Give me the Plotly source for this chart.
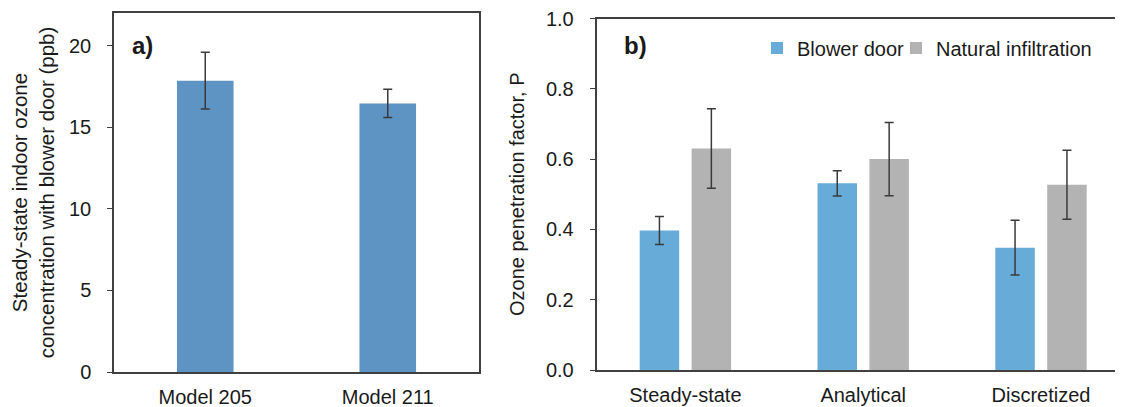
import plotly.graph_objects as go

# Panel a data
models = ["Model 205", "Model 211"]
conc = [17.85, 16.46]
conc_err = [1.74, 0.86]

# Panel b data
methods = ["Steady-state", "Analytical", "Discretized"]
blower = [0.397, 0.531, 0.348]
blower_err = [0.040, 0.036, 0.078]
natural = [0.630, 0.600, 0.527]
natural_err = [0.113, 0.104, 0.098]

A_TICKS = [0, 5, 10, 15, 20]
B_TICKS = [0.0, 0.2, 0.4, 0.6, 0.8, 1.0]

FONT = "Liberation Sans, Arial, sans-serif"
TXT = "#1a1a1a"
AX = "#404040"
ERR = dict(type="data", visible=True, color="#3a3a3a", thickness=1.5, width=4.5)

fig = go.Figure()

fig.add_trace(go.Bar(
    x=models, y=conc, error_y=dict(array=conc_err, **ERR),
    marker=dict(color="#5d94c4", line=dict(width=0)), width=0.31,
    xaxis="x", yaxis="y", showlegend=False))

fig.add_trace(go.Bar(
    x=methods, y=blower, error_y=dict(array=blower_err, **ERR),
    name="Blower door", marker=dict(color="#67acd9", line=dict(width=0)),
    width=0.222, offset=-0.257, xaxis="x2", yaxis="y2", legend="legend"))
fig.add_trace(go.Bar(
    x=methods, y=natural, error_y=dict(array=natural_err, **ERR),
    name="Natural infiltration", marker=dict(color="#b3b3b3", line=dict(width=0)),
    width=0.222, offset=0.035, xaxis="x2", yaxis="y2", legend="legend2"))

# The page adds an 8 px body margin; layout numbers below are page pixels.
OFF = 8
W, H = 1123 - OFF, 407 - OFF
ML, MR, MT, MB = 114 - OFF, 0, 13 - OFF, H - (372 - OFF)
PW = W - ML - MR
PH = H - MT - MB

def px_x(p):
    return (p - OFF - ML) / PW

def px_y(p):
    return (H - MB - (p - OFF)) / PH

B_LEFT = 596.5
BAND = 177.8
B_RIGHT = W + OFF - MR
b_range = [-0.5, -0.5 + (B_RIGHT - B_LEFT) / BAND]

LEG = dict(orientation="h", yanchor="middle", xanchor="left",
           font=dict(size=20), bgcolor="rgba(0,0,0,0)", borderwidth=0)

fig.update_layout(
    width=W, height=H,
    margin=dict(l=ML, r=MR, t=MT, b=MB, autoexpand=False),
    paper_bgcolor="white", plot_bgcolor="white",
    barmode="group",
    font=dict(family=FONT, color=TXT, size=20),
    xaxis=dict(domain=[0, px_x(479)], range=[-0.5, 1.5], showline=True,
               linecolor=AX, linewidth=1.5, mirror=True, ticks="",
               showgrid=False, tickfont=dict(size=20), ticklabelstandoff=6,
               ticklabeloverflow="allow", automargin=False, anchor="y"),
    yaxis=dict(domain=[px_y(372), px_y(13)], range=[0, 22], tickvals=A_TICKS,
               showline=True, linecolor=AX, linewidth=1.5, mirror=True,
               ticks="outside", ticklen=5, tickcolor=AX, showgrid=False,
               zeroline=False, tickfont=dict(size=20), ticklabelstandoff=12,
               ticklabeloverflow="allow",
               title=dict(text="Steady-state indoor ozone<br>concentration with blower door (ppb)",
                          font=dict(size=20.5), standoff=9),
               automargin=False, anchor="x"),
    xaxis2=dict(domain=[px_x(B_LEFT), 1.0], range=b_range, showline=True,
                linecolor=AX, linewidth=1.5, mirror=True, ticks="",
                showgrid=False, tickfont=dict(size=20), ticklabelstandoff=6,
                ticklabeloverflow="allow", automargin=False, anchor="y2"),
    yaxis2=dict(domain=[px_y(370), px_y(18.5)], range=[0, 1.0], tickvals=B_TICKS,
                tickformat=".1f", showline=True, linecolor=AX, linewidth=1.5,
                mirror=False, ticks="outside", ticklen=5, tickcolor=AX,
                showgrid=False, zeroline=False, tickfont=dict(size=20),
                ticklabelstandoff=12, ticklabeloverflow="allow",
                title=dict(text="Ozone penetration factor, P", font=dict(size=20),
                           standoff=16),
                automargin=False, anchor="x2"),
    legend=dict(x=px_x(757), y=px_y(48), **LEG),
    legend2=dict(x=px_x(896), y=px_y(48), **LEG),
    annotations=[
        dict(text="<b>a)</b>", x=px_x(142.5), y=px_y(45), xref="paper", yref="paper",
             xanchor="center", yanchor="middle",
             showarrow=False, font=dict(size=24, color=TXT)),
        dict(text="<b>b)</b>", x=px_x(635), y=px_y(45), xref="paper", yref="paper",
             xanchor="center", yanchor="middle",
             showarrow=False, font=dict(size=24, color=TXT)),
    ],
)

fig.write_html("out.html")
